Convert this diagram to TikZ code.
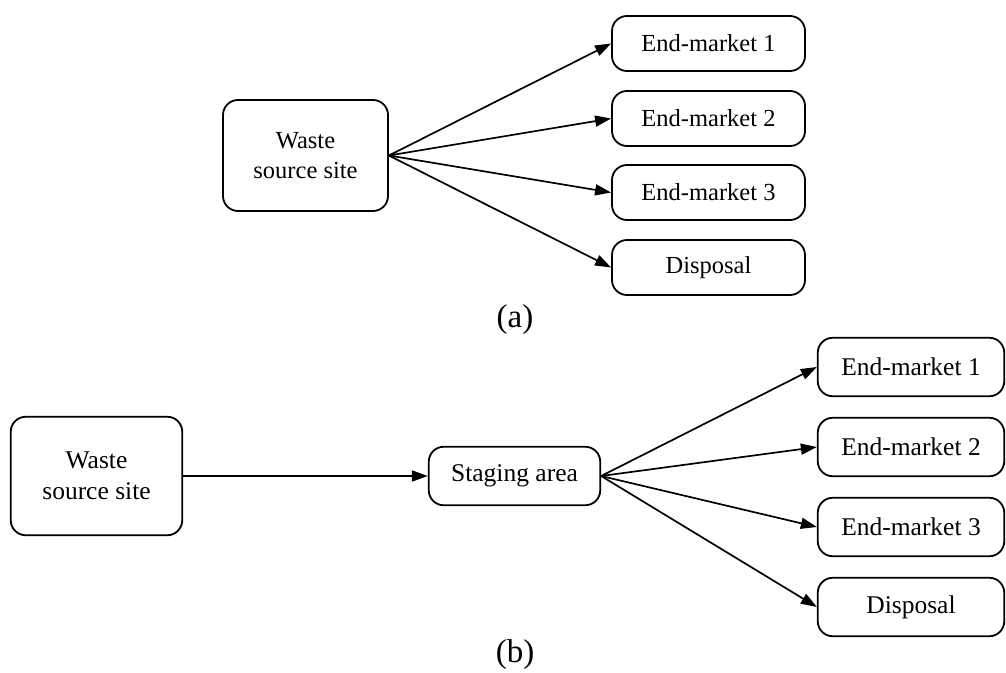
\documentclass[tikz,border=0pt]{standalone}
\usepackage{fontspec}
\setmainfont{Liberation Serif}
\usetikzlibrary{arrows.meta}

\begin{document}
\begin{tikzpicture}[x = 1pt, y = -1pt,
		box/.style = {draw, line width = 1.8pt, rounded corners = 15pt, align = center, inner sep = 0pt},
		flow/.style = {line width = 1.7pt, -{Triangle[length = 16pt, width = 11pt]}},
		txta/.style = {font = \fontsize{24.5}{30}\selectfont},
		txtb/.style = {font = \fontsize{25.5}{31}\selectfont}]
		\useasboundingbox (0,0) rectangle (1006,672);
		
		% (a) straight to the markets
		\node (Wa) at (305.5,155.5) [box, txta, minimum width = 165pt, minimum height = 111pt] {Waste\\source site};
		\node (E1a) at (708.5,43.5) [box, txta, minimum width = 193pt, minimum height = 55pt] {End-market 1};
		\node (E2a) at (708.5,118.5) [box, txta, minimum width = 193pt, minimum height = 55pt] {End-market 2};
		\node (E3a) at (708.5,192.5) [box, txta, minimum width = 193pt, minimum height = 55pt] {End-market 3};
		\node (Da) at (708.5,267.5) [box, txta, minimum width = 193pt, minimum height = 55pt] {Disposal};
		
		\draw [flow] (Wa.east) -- (E1a.west);
		\draw [flow] (Wa.east) -- (E2a.west);
		\draw [flow] (Wa.east) -- (E3a.west);
		\draw [flow] (Wa.east) -- (Da.west);
		
		\node (capa) at (515,320) [font = \fontsize{33}{36}\selectfont] {(a)};
		
		% (b) through the staging area
		\node (Wb) at (96.5,476) [box, txtb, minimum width = 171.5pt, minimum height = 118.5pt] {Waste\\source site};
		\node (S) at (514.5,476) [box, txtb, minimum width = 171.5pt, minimum height = 58.5pt] {Staging area};
		\node (E1b) at (911,367) [box, txtb, minimum width = 186.5pt, minimum height = 58.5pt] {End-market 1};
		\node (E2b) at (911,447) [box, txtb, minimum width = 186.5pt, minimum height = 58.5pt] {End-market 2};
		\node (E3b) at (911,527) [box, txtb, minimum width = 186.5pt, minimum height = 58.5pt] {End-market 3};
		\node (Db) at (911,607) [box, txtb, minimum width = 186.5pt, minimum height = 58.5pt] {Disposal};
		
		\draw [flow] (Wb) -- (S);
		\draw [flow] (S.east) -- (E1b.west);
		\draw [flow] (S.east) -- (E2b.west);
		\draw [flow] (S.east) -- (E3b.west);
		\draw [flow] (S.east) -- (Db.west);
		
		\node (capb) at (515,655) [font = \fontsize{33}{36}\selectfont] {(b)};
\end{tikzpicture}
\end{document}
